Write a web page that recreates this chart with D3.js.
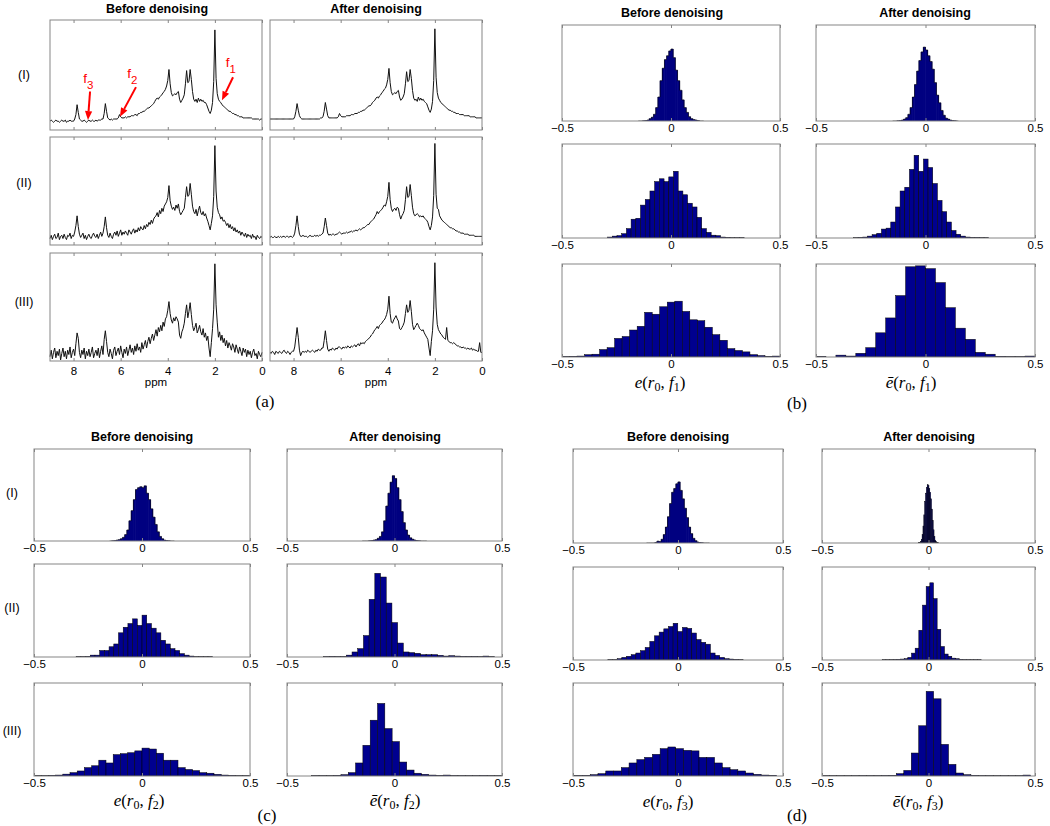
<!DOCTYPE html>
<html><head><meta charset="utf-8">
<script src="https://cdn.jsdelivr.net/npm/d3@7"></script>
<style>html,body{margin:0;padding:0;background:#fff}svg{display:block}</style>
</head><body>
<svg id="fig" width="1050" height="826"></svg>
<script>
// ---------------- DATA ----------------
// spectra: intensity (% of axes height) sampled every 0.05 ppm from 9 ppm down to 0 ppm
const ppmStart = 9, ppmStep = 0.05;
const specBeforeI = [8,9,8,7,8,9,8,8,7,8, 9,8,8,9,7,8,8,9,8,8, 8,10,14,23,16,10,9,8,8,9, 8,7,8,9,8,8,9,8,8,9,
 8,9,9,9,10,10,15,24,17,11, 10,9,10,9,10,10,10,10,11,14, 12,11,11,11,12,11,12,12,12,13, 13,13,14,14,13,15,15,16,16,17,
 17,18,19,20,20,21,22,23,24,26, 28,29,28,30,31,32,34,35,37,40, 45,55,42,34,31,32,33,32,34,35, 28,25,27,29,32,42,54,43,44,55,
 46,35,28,26,28,25,29,26,28,26, 27,25,25,23,20,17,15,18,25,44, 91,47,33,28,26,25,23,22,21,20, 19,18,17,17,16,15,15,14,14,13,
 13,12,12,12,11,11,11,11,11,11, 11,11,10,10,10,10,10,10,9,10,10];
const specAfterI = [10,10,10,10,10,10,10,10,10,10, 10,10,10,10,10,10,10,10,10,10, 10,12,17,24,18,13,11,10,10,10, 10,10,10,10,10,10,10,10,10,10,
 10,10,10,11,11,12,17,25,19,13, 11,11,11,11,11,11,11,11,12,15, 13,12,12,12,12,13,13,13,13,14, 14,14,15,15,15,16,16,17,17,18,
 18,19,20,21,22,22,23,25,26,27, 29,30,29,31,32,34,35,37,38,41, 46,56,43,35,32,33,34,33,35,36, 30,27,28,30,33,42,53,44,45,55,
 47,36,29,27,28,26,30,27,29,27, 28,26,25,24,21,18,16,19,26,45, 92,48,34,29,27,25,24,23,22,21, 20,19,18,18,17,17,16,16,15,15,
 15,14,14,14,14,13,13,13,13,13, 12,12,12,12,12,11,11,11,11,11,11];
const specBeforeII = [6,9,5,8,10,6,7,11,5,8, 9,6,10,7,5,9,8,11,6,9, 8,12,18,27,17,10,7,9,11,6, 9,5,8,10,7,6,9,11,8,7,
 10,6,9,12,8,11,17,26,16,9, 7,11,8,6,10,12,9,13,8,11, 14,9,12,10,13,11,9,14,12,10, 13,15,11,14,12,16,13,17,15,14,
 18,15,19,17,21,19,23,20,24,26, 27,30,26,32,29,34,31,36,38,40, 44,55,41,36,33,35,32,37,34,38, 31,28,30,32,34,44,54,45,46,57,
 47,36,31,29,33,27,32,36,30,28, 31,27,29,25,22,18,14,20,27,45, 92,50,35,30,28,24,26,22,23,21, 18,20,16,19,15,17,13,16,12,14,
 11,13,9,12,10,8,11,7,10,8, 9,6,10,7,8,5,9,7,6,8,7];
const specAfterII = [7,8,7,7,8,7,7,8,7,8, 7,8,8,7,8,8,7,8,8,7, 8,11,18,27,17,10,8,8,9,8, 8,8,7,8,9,8,8,8,9,8,
 9,8,9,9,10,11,17,25,18,11, 9,10,9,10,10,9,10,10,11,12, 11,10,11,11,11,12,11,12,12,13, 12,13,13,14,13,14,15,14,15,16,
 16,17,18,19,19,21,22,23,24,26, 28,31,29,31,32,33,35,37,36,40, 45,58,42,34,31,33,34,32,35,34, 28,24,27,29,32,42,54,44,45,56,
 46,35,29,27,28,29,28,26,27,26, 27,25,24,23,21,17,14,18,26,46, 94,47,34,33,27,25,23,22,21,20, 19,18,17,16,16,15,15,14,13,13,
 12,12,11,11,11,10,10,10,10,9, 9,9,9,9,8,8,8,8,8,8,8];
const specBeforeIII = [4,10,2,8,12,3,9,5,11,1, 7,12,4,9,2,10,6,13,3,8, 11,5,16,26,21,8,3,10,6,12, 2,9,5,11,4,8,13,3,7,10,
 5,12,3,9,14,6,20,28,18,8, 4,11,7,2,10,13,5,9,12,6, 14,8,3,11,7,13,5,10,15,8, 12,6,14,9,16,10,13,8,17,11,
 15,19,12,18,22,16,21,25,19,24, 29,23,31,27,33,28,36,32,39,41, 47,55,44,38,35,40,37,41,39,36, 24,21,27,30,35,44,52,40,46,54,
 43,33,28,31,35,26,29,33,27,24, 30,22,26,19,23,12,4,17,30,48, 90,52,36,22,27,19,24,17,21,14, 19,12,17,14,10,16,13,8,15,11,
 7,13,9,5,12,8,11,4,10,6, 9,3,8,11,5,7,2,9,6,4,8];
const specAfterIII = [8,7,9,8,6,9,8,7,9,8, 7,9,10,8,7,9,8,6,8,9, 9,13,22,31,22,10,5,8,9,8, 9,8,10,9,8,9,10,9,8,10,
 9,11,10,10,12,12,19,28,19,11, 9,11,10,12,11,10,12,11,13,13, 12,11,13,12,13,12,14,13,12,14, 13,14,15,13,15,16,14,17,16,17,
 16,18,19,20,21,22,24,25,27,29, 30,32,30,33,34,35,37,38,40,43, 48,60,44,36,35,38,40,42,39,37, 30,29,31,33,36,44,52,45,47,56,
 46,34,29,31,33,35,33,30,29,28, 29,26,24,22,20,12,5,18,28,48, 91,50,34,29,27,25,24,22,21,20, 31,19,18,17,17,16,17,16,15,14,
 14,13,13,12,13,12,12,11,12,11, 11,12,10,11,10,10,9,9,17,8,8];

// histograms: [first bin start, bin width] and bar heights (% of axes height)
const binsB1b = [-0.15, 0.01];
const histB1b = [0,0,0.3,0.5,1,2.5,4,7,14,25, 42,55,64,68,73,75,66,53,42,32, 22,14,9,4.5,2.5,1.5,1,0.5,0,0];
const binsB1a = [-0.15, 0.01];
const histB1a = [0,0,0.3,0.5,1,2,3.5,7,14,25, 38,52,63,72,77,74,68,62,54,40, 27,19,11,6,3,2,1,0.5,0.3,0];
const binsB2b = [-0.291, 0.0216];
const histB2b = [1,2,2.5,4.6,10,20,21,35,41,50,60,63,60,65,71,50,46,37,33,22,10,6,3,2.5,1,0.7,0.3,0.3,0.3];
const binsB2a = [-0.329, 0.0213];
const histB2a = [0.3,0.7,1,2,3.5,5,9.5,10.5,17,33,50,54,73,88,71,84,75,58,40,28,17,8,4,2,1,0.7,0.7,0.4,0.3];
const binsB3b = [-0.5, 0.034483];
const histB3b = [0.5,0.7,1,2.5,3,8,10,20,22,29,33,48,46,54,59,60,49,40,39,32,24,18,9,7,5.5,2.5,1.5,0.7,1];
const binsB3a = [-0.5, 0.045455];
const histB3a = [0.7,0,2,1,4,10,26,42,66,97,98,95,80,53,31,19,5,3,0.7,0.4,0.4,1];

const binsC1b = [-0.15, 0.01];
const histC1b = [0,0.3,0.5,1,1.5,2.5,4,7,12,22, 33,45,56,58,59,58,60,52,45,35, 26,18,10,5,2.5,1,0.5,0.3,0,0];
const binsC1a = [-0.15, 0.01];
const histC1a = [0,0,0,0.3,0.5,1,1.5,3,5,10, 22,38,52,64,71,68,58,45,32,20, 12,6.5,3.5,2,1,0.5,0.3,0,0,0];
const binsC2b = [-0.305, 0.0218];
const histC2b = [0.4,0.4,0.7,2,2,7,7,11,14,26,32,36,41,34,45,36,31,26,18,14,9,7,3.6,2,1,0.4,0.4,0.3,0.3];
const binsC2a = [-0.33, 0.0265];
const histC2a = [0.4,0.7,0.5,0.5,2,5.4,9,23,62,90,86,58,37,15,5.4,4.7,4,2.5,2.5,2.5,1.8,1,1.4,1,0.7,0.7,0.7,0.4,1,0.4];
const binsC3b = [-0.5, 0.033333];
const histC3b = [0.3,0.3,0.7,1,2,3.6,5.4,9,11,17,14,23,24,25,27,30,29,24.5,17,17,9,7,5.8,3.6,3,1.8,1,0.7,0.4,0.3];
const binsC3a = [-0.385, 0.034];
const histC3a = [0.4,0.4,0.4,0.7,1.4,3.6,14,33,60,78,51,37,15,6.4,3,1.8,1,0.7,1,0.5,0.4,0.4,0.4,0.5,0.4,0.4];

const binsD1b = [-0.15, 0.01];
const histD1b = [0,0,0,0,0.5,2,1.5,4,9,17, 28,42,54,58,63,65,56,47,37,27, 17,10,5,2.5,1,0.5,0.3,0,0,0];
const binsD1a = [-0.05, 0.004];
const histD1a = [0,0.3,0.7,1.5,4,9,18,30,44,53,59,62,61,58,54,47,36,24,14,7,3,1.5,0.7,0.3,0];
const binsD2b = [-0.334, 0.0222];
const histD2b = [0.4,0.4,1.4,2.8,4,5.7,7.5,10,13.5,20,26,30,33.5,36,39.5,30.6,35,34,29,22,19,17,7.5,5,2.8,1.4,1,0.7,0.4];
const binsD2a = [-0.2174, 0.0172];
const histD2a = [0.3,0.3,0.4,0.5,0.7,1,1.4,2.8,7.4,12.7,32,59,79,83,66,33,14.5,6.4,4,2,1.4,0.8,0.5,0.4,0.3,0.3,0.3];
const binsD3b = [-0.492, 0.037];
const histD3b = [0.5,0.7,1.4,2.5,5.4,5.4,9,14,17.6,20,23.3,29.4,31.2,29.4,27.6,27,20,20,14,9,6.8,5.4,3.2,1.8,1,0.7];
const binsD3a = [-0.501, 0.035];
const histD3a = [0.3,0.3,0.3,0.3,0.3,0.4,0.4,0.4,0.5,0.7,2.5,6,24.7,54,91,83,34,12.5,3.2,1.4,0.7,0.4,0.4,0.3,0.3,0.3,0.4,1];

// tick labels & texts
const histTicks = [-0.5, 0, 0.5];
const ppmTicks = [8, 6, 4, 2, 0];
const colTitles = ["Before denoising", "After denoising"];
const rowNames = ["(I)", "(II)", "(III)"];
const panelNames = ["(a)", "(b)", "(c)", "(d)"];
const peakNames = ["1", "2", "3"];           // f1, f2, f3 subscripts
const peakLabelAt = [[1.32, 57], [5.50, 47], [7.37, 43]]; // (ppm, intensity)
const peakArrowFrom = [[1.23, 48], [5.35, 39], [7.30, 35]];
const peakArrowTo = [[1.70, 27], [6.03, 12], [7.39, 9]];

// ---------------- DRAWING ----------------
const svg = d3.select("#fig");
svg.append("rect").attr("width", 1050).attr("height", 826).attr("fill", "#fff");
const SANS = "Liberation Sans, Arial, Helvetica, sans-serif";
const SERIF = "Liberation Serif, Times New Roman, serif";
const BOX = "#858585";
const FILL = "#00008f";
let clipN = 0;

function frame(g, x0, x1, y0, y1) {
  g.append("rect").attr("x", x0).attr("y", y0).attr("width", x1 - x0).attr("height", y1 - y0)
    .attr("fill", "none").attr("stroke", BOX).attr("stroke-width", 1);
}
function axes(g, x, y0, y1, ticks, fmt, showLabels, pad) {
  const gb = g.append("g").attr("transform", `translate(0,${y1})`)
    .call(d3.axisBottom(x).tickValues(ticks).tickSizeInner(-3).tickSizeOuter(0).tickPadding(pad)
      .tickFormat(showLabels ? fmt : () => ""));
  gb.select(".domain").remove();
  gb.selectAll("line").attr("stroke", BOX);
  gb.attr("font-family", SANS).attr("font-size", 11.5);
  gb.selectAll("text").attr("fill", "#000");
  const gt = g.append("g").attr("transform", `translate(0,${y0})`)
    .call(d3.axisTop(x).tickValues(ticks).tickSizeInner(-3).tickSizeOuter(0).tickFormat(() => ""));
  gt.select(".domain").remove();
  gt.selectAll("line").attr("stroke", BOX);
}
const histFmt = d => d === 0 ? "0" : d3.format(".1f")(d);

function drawSpectrum(x0, x1, y0, y1, vals, showLabels) {
  const x = d3.scaleLinear().domain([9, 0]).range([x0, x1]);
  const y = d3.scaleLinear().domain([0, 100]).range([y1, y0]);
  const g = svg.append("g");
  g.append("path").datum(vals)
    .attr("d", d3.line().x((d, i) => x(ppmStart - i * ppmStep)).y(d => y(d)))
    .attr("fill", "none").attr("stroke", "#111").attr("stroke-width", 1).attr("stroke-linejoin", "round");
  frame(g, x0, x1, y0, y1);
  axes(g, x, y0, y1, ppmTicks, d3.format("d"), showLabels, 6);
  return { x, y };
}
function drawHist(x0, x1, y0, y1, bins, vals) {
  const x = d3.scaleLinear().domain([-0.5, 0.5]).range([x0, x1]);
  const y = d3.scaleLinear().domain([0, 100]).range([y1, y0]);
  const id = "clip" + (clipN++);
  svg.append("clipPath").attr("id", id).append("rect")
    .attr("x", x0).attr("y", y0).attr("width", x1 - x0).attr("height", y1 - y0);
  const g = svg.append("g");
  const inner = g.append("g").attr("clip-path", `url(#${id})`);
  const pxw = x(bins[0] + bins[1]) - x(bins[0]);
  const bx = i => x(bins[0] + i * bins[1]);
  if (pxw > 3 || pxw < 1.2) {
    inner.selectAll("rect").data(vals).join("rect")
      .attr("x", (d, i) => bx(i)).attr("width", (d, i) => bx(i + 1) - bx(i))
      .attr("y", d => y(d)).attr("height", d => y(0) - y(d))
      .attr("fill", FILL).attr("stroke", "#000").attr("stroke-width", 0.5);
  } else {
    // narrow bins: solid fill + black outline of the bar tops
    inner.selectAll("rect").data(vals).join("rect")
      .attr("x", (d, i) => bx(i) - 0.3).attr("width", (d, i) => bx(i + 1) - bx(i) + 0.6)
      .attr("y", d => y(d)).attr("height", d => y(0) - y(d))
      .attr("fill", "#000080");
    const pts = [];
    vals.forEach((d, i) => { pts.push([bx(i), y(d)]); pts.push([bx(i + 1), y(d)]); });
    inner.append("path").attr("d", d3.line()(pts)).attr("fill", "none")
      .attr("stroke", "#000").attr("stroke-width", 0.6);
  }
  frame(g, x0, x1, y0, y1);
  axes(g, x, y0, y1, histTicks, histFmt, true, 2.5);
}
function title(x, y, t) {
  svg.append("text").attr("x", x).attr("y", y).attr("text-anchor", "middle")
    .attr("font-family", SANS).attr("font-weight", "bold").attr("font-size", 12.5).text(t);
}
function plain(x, y, t, size, fam) {
  svg.append("text").attr("x", x).attr("y", y).attr("text-anchor", "middle")
    .attr("font-family", fam).attr("font-size", size).attr("fill", "#000").text(t);
}
function mathLabel(x, y, bar, sub) {
  const t = svg.append("text").attr("x", x).attr("y", y).attr("text-anchor", "middle")
    .attr("font-family", SERIF).attr("font-size", 17);
  t.append("tspan").attr("font-style", "italic").text(bar ? "\u0113" : "e");
  t.append("tspan").text("(");
  t.append("tspan").attr("font-style", "italic").text("r");
  t.append("tspan").attr("dy", 3).attr("font-size", 12).text("0");
  t.append("tspan").attr("dy", -3).text(", ");
  t.append("tspan").attr("font-style", "italic").text("f");
  t.append("tspan").attr("dy", 3).attr("font-size", 12).text(sub);
  t.append("tspan").attr("dy", -3).text(")");
}

// ---- panel (a)
const aCols = [[50, 262], [270, 482]];
const aRows = [[20, 130], [137, 245], [253, 361]];
const aSpec = [[specBeforeI, specAfterI], [specBeforeII, specAfterII], [specBeforeIII, specAfterIII]];
let annot = null;
aRows.forEach((r, ri) => aCols.forEach((c, ci) => {
  const s = drawSpectrum(c[0], c[1], r[0], r[1], aSpec[ri][ci], ri === 2);
  if (ri === 0 && ci === 0) annot = s;
}));
title(157, 13, colTitles[0]); title(376, 13, colTitles[1]);
[79, 187, 306].forEach((y, i) => plain(24, y, rowNames[i], 12.5, SANS));
plain(156, 386, "ppm", 11.5, SANS); plain(376, 386, "ppm", 11.5, SANS);
plain(265, 407, panelNames[0], 17, SERIF);

// red annotations on (a)(I) before
const RED = "#ff0000";
peakNames.forEach((n, i) => {
  const fx = annot.x(peakArrowFrom[i][0]), fy = annot.y(peakArrowFrom[i][1]);
  const tx = annot.x(peakArrowTo[i][0]), ty = annot.y(peakArrowTo[i][1]);
  const ang = Math.atan2(ty - fy, tx - fx), L = 9, W = 3.6;
  const bx = tx - L * Math.cos(ang), by = ty - L * Math.sin(ang);
  svg.append("line").attr("x1", fx).attr("y1", fy).attr("x2", bx).attr("y2", by)
    .attr("stroke", RED).attr("stroke-width", 2);
  svg.append("polygon").attr("fill", RED).attr("points", [
    [tx, ty],
    [bx + W * Math.sin(ang), by - W * Math.cos(ang)],
    [bx - W * Math.sin(ang), by + W * Math.cos(ang)]].map(p => p.join(",")).join(" "));
  const t = svg.append("text").attr("x", annot.x(peakLabelAt[i][0])).attr("y", annot.y(peakLabelAt[i][1]))
    .attr("text-anchor", "middle").attr("font-family", SANS).attr("font-size", 13.5).attr("fill", RED);
  t.append("tspan").text("f");
  t.append("tspan").attr("dy", 6).attr("font-size", 11.5).text(n);
});

// ---- panels (b),(c),(d)
function histPanel(cols, rows, data, bins) {
  rows.forEach((r, ri) => cols.forEach((c, ci) => {
    drawHist(c[0], c[1], r[0], r[1], bins[ri][ci], data[ri][ci]);
  }));
}
histPanel([[562, 780], [816, 1035]], [[25, 121], [144, 238], [264, 357]],
  [[histB1b, histB1a], [histB2b, histB2a], [histB3b, histB3a]],
  [[binsB1b, binsB1a], [binsB2b, binsB2a], [binsB3b, binsB3a]]);
title(672, 17, colTitles[0]); title(925, 17, colTitles[1]);
mathLabel(660, 388, false, "1"); mathLabel(911, 388, true, "1");
plain(797, 409, panelNames[1], 17, SERIF);

histPanel([[34, 250], [287, 502]], [[449, 541], [564, 657], [683, 776]],
  [[histC1b, histC1a], [histC2b, histC2a], [histC3b, histC3a]],
  [[binsC1b, binsC1a], [binsC2b, binsC2a], [binsC3b, binsC3a]]);
title(142, 441, colTitles[0]); title(395, 441, colTitles[1]);
[497, 612, 735].forEach((y, i) => plain(12, y, rowNames[i], 12.5, SANS));
mathLabel(139, 806, false, "2"); mathLabel(395, 806, true, "2");
plain(267, 821, panelNames[2], 17, SERIF);

histPanel([[573, 783], [822, 1035]], [[449, 543], [567, 660], [683, 776]],
  [[histD1b, histD1a], [histD2b, histD2a], [histD3b, histD3a]],
  [[binsD1b, binsD1a], [binsD2b, binsD2a], [binsD3b, binsD3a]]);
title(678, 441, colTitles[0]); title(929, 441, colTitles[1]);
mathLabel(668, 807, false, "3"); mathLabel(918, 807, true, "3");
plain(797, 821, panelNames[3], 17, SERIF);
</script>
</body></html>
